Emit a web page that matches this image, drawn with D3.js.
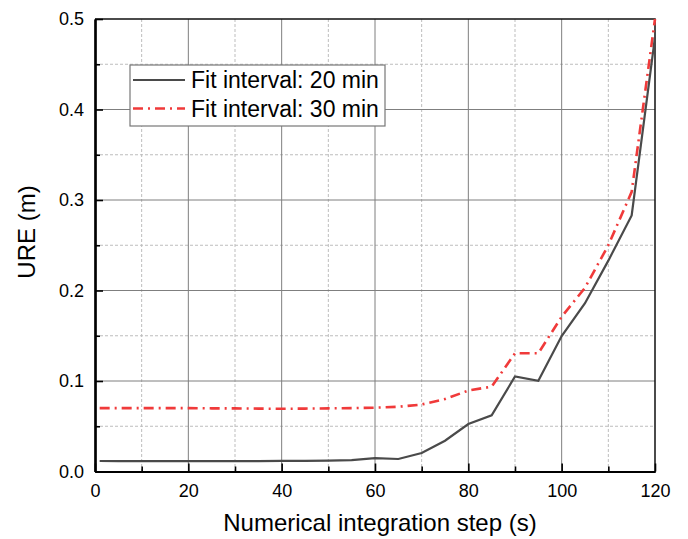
<!DOCTYPE html>
<html>
<head>
<meta charset="utf-8">
<script src="https://cdn.jsdelivr.net/npm/d3@7"></script>
<style>
  body { margin: 0; background: #fff; }
  svg { font-family: "Liberation Sans", Arial, sans-serif; }
</style>
</head>
<body>
<div id="chart"></div>
<script>
// integration steps (s)
var steps = [1, 5, 10, 15, 20, 25, 30, 35, 40, 45, 50, 55, 60,
             65, 70, 75, 80, 85, 90, 95, 100, 105, 110, 115, 120];

// URE (m) for the two fit intervals
var fit20 = [0.0116, 0.0115, 0.0115, 0.0115, 0.0115, 0.0115, 0.0115, 0.0115, 0.0117, 0.0118,
             0.0120, 0.0125, 0.0148, 0.0138, 0.0205, 0.034, 0.0525, 0.062, 0.105, 0.1003,
             0.1497, 0.186, 0.233, 0.283, 0.48];
var fit30 = [0.070, 0.070, 0.070, 0.070, 0.070, 0.0698, 0.0697, 0.0695, 0.0693, 0.0695,
             0.0698, 0.0700, 0.0705, 0.0715, 0.074, 0.080, 0.0895, 0.0937, 0.1306, 0.1306,
             0.171, 0.203, 0.25, 0.309, 0.5];

var seriesNames = ['Fit interval: 20 min', 'Fit interval: 30 min'];
var xTicks = [0, 20, 40, 60, 80, 100, 120];
var yTicks = [0.0, 0.1, 0.2, 0.3, 0.4, 0.5];

var w = 688, h = 539;
// plot box (don't call these top/left - window.top is read-only)
var pL = 95, pR = 655, pT = 19, pB = 471.5;

var svg = d3.select('#chart').append('svg')
  .attr('width', w)
  .attr('height', h);

var x = d3.scaleLinear().domain([0, 120]).range([pL, pR]);
var y = d3.scaleLinear().domain([0, 0.5]).range([pB, pT]);

// minor grid (dashed)
var xMinor = d3.range(10, 120, 20);
var yMinor = d3.range(0.05, 0.5, 0.1);
svg.append('g').selectAll('line')
  .data(xMinor).enter().append('line')
  .attr('x1', function(d){ return x(d); })
  .attr('x2', function(d){ return x(d); })
  .attr('y1', pT).attr('y2', pB)
  .attr('stroke', '#bdbdbd').attr('stroke-dasharray', '3,2');
svg.append('g').selectAll('line')
  .data(yMinor).enter().append('line')
  .attr('x1', pL).attr('x2', pR)
  .attr('y1', function(d){ return y(d); })
  .attr('y2', function(d){ return y(d); })
  .attr('stroke', '#bdbdbd').attr('stroke-dasharray', '3,2');

// major grid
svg.append('g').selectAll('line')
  .data(xTicks.slice(1, -1)).enter().append('line')
  .attr('x1', function(d){ return x(d); })
  .attr('x2', function(d){ return x(d); })
  .attr('y1', pT).attr('y2', pB)
  .attr('stroke', '#7f7f7f');
svg.append('g').selectAll('line')
  .data(yTicks.slice(1, -1)).enter().append('line')
  .attr('x1', pL).attr('x2', pR)
  .attr('y1', function(d){ return y(d); })
  .attr('y2', function(d){ return y(d); })
  .attr('stroke', '#7f7f7f');

// top / right frame
svg.append('path')
  .attr('d', 'M' + pL + ',' + pT + 'H' + pR + 'V' + pB)
  .attr('fill', 'none').attr('stroke', '#111').attr('stroke-width', 1.5);

// lines
var line = d3.line()
  .x(function(d){ return x(d[0]); })
  .y(function(d){ return y(d[1]); });

svg.append('path')
  .datum(d3.zip(steps, fit30))
  .attr('d', line)
  .attr('fill', 'none')
  .attr('stroke', '#f03a3a')
  .attr('stroke-width', 2.6)
  .attr('stroke-dasharray', '10,5,2,5');

svg.append('path')
  .datum(d3.zip(steps, fit20))
  .attr('d', line)
  .attr('fill', 'none')
  .attr('stroke', '#4a4a4a')
  .attr('stroke-width', 2.2);

// axes, ticks point inward
var xAxis = d3.axisBottom(x).tickValues(xTicks).tickSizeInner(-8).tickSizeOuter(0).tickPadding(13);
var xAxisMinor = d3.axisBottom(x).tickValues(xMinor).tickSizeInner(-5).tickSizeOuter(0).tickFormat('');
var yAxis = d3.axisLeft(y).tickValues(yTicks).tickSizeInner(-8).tickSizeOuter(0).tickPadding(11)
  .tickFormat(d3.format('.1f'));
var yAxisMinor = d3.axisLeft(y).tickValues(yMinor).tickSizeInner(-5).tickSizeOuter(0).tickFormat('');

function styleAxis(g) {
  g.select('.domain').attr('stroke', '#000').attr('stroke-width', 2.2);
  g.selectAll('.tick line').attr('stroke', '#000').attr('stroke-width', 1.6);
  g.selectAll('.tick text').attr('font-size', '18px').attr('fill', '#000')
    .attr('font-family', '"Liberation Sans", Arial, sans-serif');
}

svg.append('g').attr('transform', 'translate(0,' + pB + ')').call(xAxisMinor).call(styleAxis);
svg.append('g').attr('transform', 'translate(0,' + pB + ')').call(xAxis).call(styleAxis);
svg.append('g').attr('transform', 'translate(' + pL + ',0)').call(yAxisMinor).call(styleAxis);
svg.append('g').attr('transform', 'translate(' + pL + ',0)').call(yAxis).call(styleAxis);

// axis titles
svg.append('text')
  .attr('x', 380)
  .attr('y', 531)
  .attr('text-anchor', 'middle')
  .attr('font-size', '24px')
  .text('Numerical integration step (s)');

svg.append('text')
  .attr('transform', 'translate(35,232) rotate(-90)')
  .attr('text-anchor', 'middle')
  .attr('font-size', '24px')
  .text('URE (m)');

// legend
var legend = svg.append('g').attr('transform', 'translate(130,65)');
legend.append('rect')
  .attr('width', 255).attr('height', 61)
  .attr('fill', '#fff').attr('stroke', '#777').attr('stroke-width', 1.2);

var legendStyles = [
  { color: '#4a4a4a', dash: null, width: 2.2 },
  { color: '#f03a3a', dash: '10,5,2,5', width: 2.6 }
];
var rows = legend.selectAll('g.row')
  .data(seriesNames).enter().append('g')
  .attr('transform', function(d, i){ return 'translate(0,' + (15 + i * 28.5) + ')'; });
rows.append('line')
  .attr('x1', 3).attr('x2', 55)
  .attr('stroke', function(d, i){ return legendStyles[i].color; })
  .attr('stroke-width', function(d, i){ return legendStyles[i].width; })
  .attr('stroke-dasharray', function(d, i){ return legendStyles[i].dash; });
rows.append('text')
  .attr('x', 61).attr('y', 8)
  .attr('font-size', '23px')
  .text(function(d){ return d; });
</script>
</body>
</html>
